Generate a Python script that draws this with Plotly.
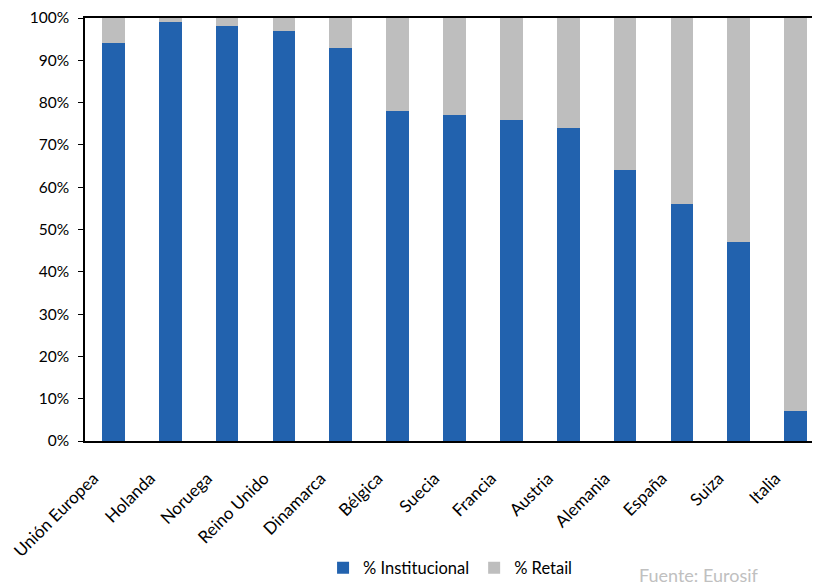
import plotly.graph_objects as go

categories = ["Unión Europea", "Holanda", "Noruega", "Reino Unido", "Dinamarca", "Bélgica",
              "Suecia", "Francia", "Austria", "Alemania", "España", "Suiza", "Italia"]
institucional = [94, 99, 98, 97, 93, 78, 77, 76, 74, 64, 56, 47, 7]
retail = [6, 1, 2, 3, 7, 22, 23, 24, 26, 36, 44, 53, 93]
y_ticks = [0, 10, 20, 30, 40, 50, 60, 70, 80, 90, 100]
y_ticklabels = [f"{v}%" for v in y_ticks]

FONT = "Lato"

fig = go.Figure()
fig.add_trace(go.Bar(x=categories, y=institucional, name="% Institucional",
                     marker=dict(color="#2262AE", line=dict(width=0))))
fig.add_trace(go.Bar(x=categories, y=retail, name="% Retail",
                     marker=dict(color="#BEBEBE", line=dict(width=0))))

fig.update_layout(
    barmode="stack",
    bargap=0.6,
    width=820, height=587,
    margin=dict(l=77, r=4, t=10, b=154, autoexpand=False),
    plot_bgcolor="white", paper_bgcolor="white",
    font=dict(family=FONT, size=15, color="black"),
    showlegend=True,
    legend=dict(orientation="h", x=0.494, xanchor="center", y=-0.30, yanchor="middle",
                font=dict(size=16.5), traceorder="normal", itemwidth=30),
    xaxis=dict(range=[-0.5, 12.5], tickangle=-45, showline=True, linecolor="black",
               linewidth=1.5, mirror=True, ticks="", showgrid=False, automargin=False,
               ticklabelstandoff=19, ticklabelshift=-20,
               tickfont=dict(size=17), layer="below traces"),
    yaxis=dict(range=[0, 100], tickvals=y_ticks, ticktext=y_ticklabels, showline=True,
               linecolor="black", linewidth=1.5, ticks="outside", ticklen=5,
               tickcolor="black", showgrid=False, tickfont=dict(size=15.5), automargin=False,
               ticklabelstandoff=6, zeroline=False, layer="below traces"),
    annotations=[dict(text="Fuente: Eurosif", xref="paper", yref="paper", x=0.831, y=-0.316,
                      xanchor="center", yanchor="middle", showarrow=False,
                      font=dict(size=18, color="#C0C0C0"))],
)

fig.write_html("out.html")
